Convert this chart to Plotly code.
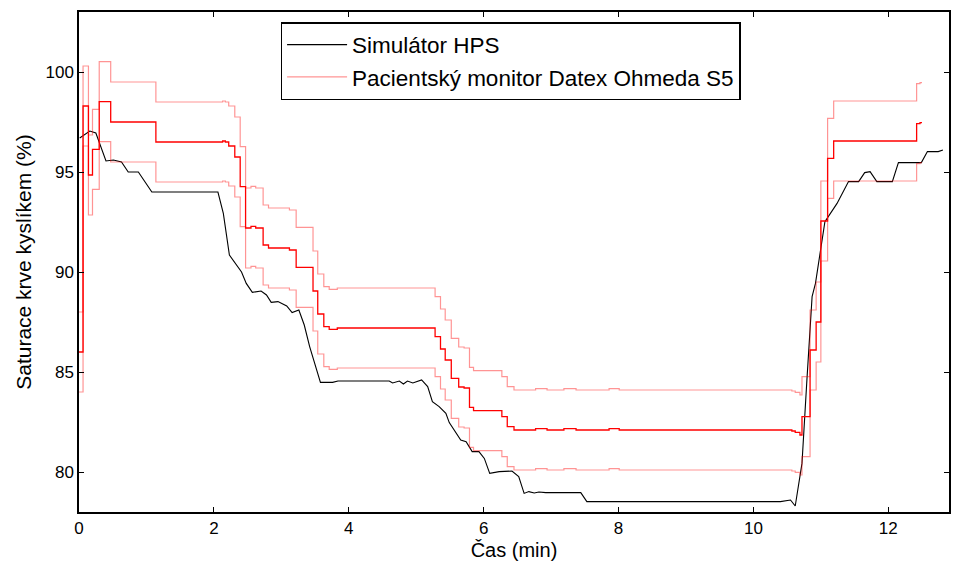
import plotly.graph_objects as go

# ---- data ----
sim_t = [0.01, 0.16, 0.25, 0.30, 0.40, 0.51, 0.63, 0.73, 0.88, 0.98, 1.08, 2.06, 2.14, 2.23,
         2.41, 2.48, 2.57, 2.70, 2.78, 2.85, 2.95, 3.08, 3.16, 3.26, 3.34, 3.42, 3.58, 3.76,
         3.84, 4.60, 4.65, 4.75, 4.81, 4.87, 4.95, 5.08, 5.17, 5.24, 5.34, 5.44, 5.49, 5.66,
         5.74, 5.83, 5.93, 6.01, 6.09, 6.23, 6.42, 6.52, 6.60, 6.67, 6.75, 6.82, 6.92, 7.44,
         7.53, 10.40, 10.47, 10.55, 10.62, 10.72, 10.79, 10.87, 10.92, 10.99, 11.06, 11.24,
         11.41, 11.56, 11.65, 11.73, 11.83, 12.06, 12.15, 12.49, 12.58, 12.74, 12.81]
sim_spo2 = [96.7, 97.05, 96.95, 96.5, 95.55, 95.6, 95.5, 95.0, 95.0, 94.5, 94.0, 94.0, 92.93, 90.85,
            90.0, 89.43, 88.98, 89.05, 88.85, 88.48, 88.52, 88.3, 87.97, 88.1, 87.35, 86.27, 84.48, 84.48,
            84.55, 84.55, 84.45, 84.55, 84.4, 84.55, 84.45, 84.6, 84.27, 83.52, 83.27, 82.93, 82.47, 81.6,
            81.52, 81.02, 81.02, 80.68, 79.93, 80.02, 80.05, 79.77, 78.93, 79.02, 78.95, 79.0, 78.97, 78.97,
            78.52, 78.52, 78.55, 78.6, 78.3, 80.43, 84.43, 88.77, 89.43, 90.93, 92.52, 93.43,
            94.52, 94.52, 94.97, 95.02, 94.52, 94.52, 95.47, 95.47, 96.02, 96.02, 96.1]

mon_t = [0.0, 0.06, 0.14, 0.20, 0.30, 0.47, 1.14, 2.13, 2.17, 2.22, 2.31, 2.39, 2.47, 2.55, 2.62,
         2.73, 2.81, 3.12, 3.22, 3.47, 3.54, 3.63, 3.71, 3.83, 5.28, 5.36, 5.43, 5.52, 5.63, 5.71,
         5.79, 5.85, 6.27, 6.35, 6.45, 6.77, 6.94, 7.19, 7.37, 7.86, 8.01, 10.57, 10.62, 10.69,
         10.72, 10.84, 10.93, 11.00, 11.10, 11.19, 12.42, 12.47, 12.50]
mon_spo2 = [86.0, 98.3, 94.85, 96.13, 98.52, 97.5, 96.5, 96.55, 96.5, 96.3, 95.75, 94.27, 92.2, 92.28, 92.2,
            91.35, 91.2, 91.1, 90.23, 89.05, 87.9, 87.27, 87.13, 87.2, 86.77, 86.15, 85.6, 84.68, 84.25, 84.2,
            83.23, 83.07, 82.77, 82.27, 82.1, 82.17, 82.1, 82.17, 82.1, 82.17, 82.1, 82.05, 81.98, 81.85,
            82.77, 86.1, 87.5, 92.55, 95.68, 96.55, 97.42, 97.47, 97.47]

tolerance = 2.0  # monitor accuracy band (+/- 2 %)
mon_upper = [v + tolerance for v in mon_spo2]
mon_lower = [v - tolerance for v in mon_spo2]

x_ticks = [0, 2, 4, 6, 8, 10, 12]
y_ticks = [80, 85, 90, 95, 100]

FONT = "Liberation Sans, Arial, sans-serif"
BAND = "rgba(255,0,0,0.42)"

fig = go.Figure()
fig.add_trace(go.Scatter(x=sim_t, y=sim_spo2, mode="lines", name="Simulátor HPS",
                         line=dict(color="black", width=1.1)))
fig.add_trace(go.Scatter(x=mon_t, y=mon_upper, mode="lines", name="Pacientský monitor Datex Ohmeda S5",
                         line=dict(color=BAND, width=1.2, shape="hv")))
fig.add_trace(go.Scatter(x=mon_t, y=mon_lower, mode="lines", showlegend=False,
                         line=dict(color=BAND, width=1.2, shape="hv")))
fig.add_trace(go.Scatter(x=mon_t, y=mon_spo2, mode="lines", showlegend=False,
                         line=dict(color="#ff0000", width=1.3, shape="hv")))

axis_common = dict(showgrid=False, zeroline=False, showline=True, linecolor="black", linewidth=1.5,
                   mirror="ticks", ticks="inside", ticklen=5, tickwidth=1, tickcolor="black",
                   tickfont=dict(family=FONT, size=17, color="black"))

fig.update_xaxes(range=[0, 12.9], tickvals=x_ticks, ticktext=[str(v) for v in x_ticks],
                 title=dict(text="Čas (min)", font=dict(family=FONT, size=20, color="black"), standoff=6),
                 **axis_common)
fig.update_yaxes(range=[78, 103], tickvals=y_ticks, ticktext=[str(v) for v in y_ticks],
                 title=dict(text="Saturace krve kyslíkem (%)", font=dict(family=FONT, size=21, color="black"),
                            standoff=8),
                 **axis_common)

fig.update_layout(
    width=953, height=570,
    margin=dict(l=79, r=2, t=12, b=58),
    paper_bgcolor="white", plot_bgcolor="white",
    showlegend=True,
    legend=dict(x=0.2317, y=0.98, xanchor="left", yanchor="top",
                bgcolor="white", bordercolor="black", borderwidth=1.5,
                font=dict(family=FONT, size=22.5, color="black"),
                itemwidth=60, tracegroupgap=0),
)

fig.write_html("out.html")
